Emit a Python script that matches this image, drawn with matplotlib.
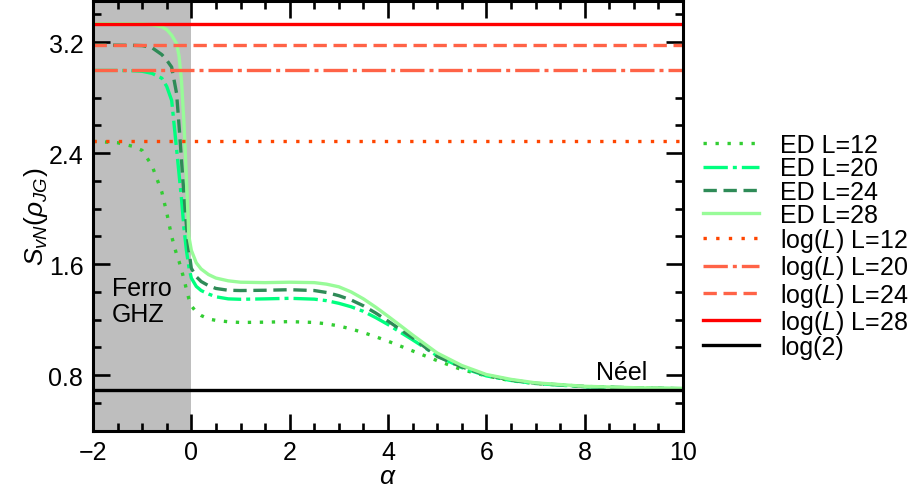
import matplotlib
matplotlib.use("Agg")
import matplotlib.pyplot as plt
import numpy as np

plt.rcParams['font.family'] = ['Liberation Sans', 'DejaVu Sans']
plt.rcParams['mathtext.fontset'] = 'custom'
plt.rcParams['mathtext.rm'] = 'Liberation Sans'
plt.rcParams['mathtext.it'] = 'Liberation Sans:italic'
plt.rcParams['mathtext.bf'] = 'Liberation Sans:bold'

# coupling alpha
alpha = [-2.0, -1.5, -1.2, -1.0, -0.8, -0.6, -0.5, -0.4, -0.3, -0.25, -0.2,
         -0.15, -0.1, -0.05, 0.0, 0.1, 0.2, 0.35, 0.5, 0.75, 1.0, 1.5, 2.0,
         2.5, 2.75, 3.0, 3.25, 3.5, 3.75, 4.0, 4.25, 4.5, 5.0, 5.5, 6.0, 6.5,
         7.0, 8.0, 9.0, 10.0]

# exact-diagonalisation entanglement entropy S_vN for each chain length
ed_L12 = [2.485, 2.475, 2.45, 2.42, 2.31, 2.12, 1.97, 1.80, 1.67, 1.62, 1.56,
          1.49, 1.42, 1.35, 1.30, 1.255, 1.23, 1.205, 1.195, 1.185, 1.18, 1.182,
          1.186, 1.18, 1.17, 1.155, 1.133, 1.107, 1.077, 1.045, 1.01, 0.975,
          0.905, 0.84, 0.795, 0.76, 0.74, 0.717, 0.708, 0.702]
ed_L20 = [2.996, 2.996, 2.994, 2.99, 2.975, 2.94, 2.88, 2.78, 2.43, 2.25, 2.07,
          1.86, 1.70, 1.58, 1.50, 1.44, 1.41, 1.385, 1.365, 1.35, 1.347, 1.35,
          1.354, 1.348, 1.337, 1.318, 1.293, 1.26, 1.215, 1.165, 1.11, 1.055,
          0.94, 0.855, 0.795, 0.762, 0.74, 0.717, 0.708, 0.702]
ed_L24 = [3.178, 3.178, 3.177, 3.175, 3.16, 3.11, 3.07, 3.02, 2.83, 2.60, 2.35,
          2.10, 1.88, 1.70, 1.57, 1.51, 1.475, 1.445, 1.425, 1.412, 1.41, 1.412,
          1.416, 1.41, 1.396, 1.373, 1.342, 1.30, 1.248, 1.19, 1.13, 1.07,
          0.935, 0.86, 0.80, 0.765, 0.742, 0.719, 0.709, 0.703]
ed_L28 = [3.332, 3.332, 3.331, 3.33, 3.325, 3.31, 3.29, 3.25, 3.19, 3.10, 2.92,
          2.62, 2.22, 1.80, 1.70, 1.61, 1.565, 1.525, 1.50, 1.48, 1.47, 1.467,
          1.47, 1.467, 1.456, 1.437, 1.40, 1.35, 1.29, 1.225, 1.158, 1.09,
          0.96, 0.87, 0.805, 0.77, 0.745, 0.72, 0.71, 0.705]

chain_lengths = [12, 20, 24, 28]

ed_colors = ['#32cd32', '#00ff7f', '#2e8b57', '#98fb98']
ed_styles = [(0, (1, 2.6)), (0, (7.3, 1.5, 1.2, 1.5)), (0, (4, 2)), '-']
log_colors = ['#ff4500', '#ff6347', '#ff6347', '#ff0000']
log_styles = [(0, (1, 2.8)), (0, (7.3, 1.5, 1.2, 1.5)), (0, (4, 2)), '-']

fig = plt.figure(figsize=(9.21, 5.02), dpi=100)
ax = fig.add_axes([93 / 921, 1 - 431.7 / 502, 590 / 921, 430.2 / 502])

# ferromagnetic GHZ region
ax.axvspan(-2, 0, color='#bebebe', lw=0, zorder=0)

ed_series = [ed_L12, ed_L20, ed_L24, ed_L28]
for L, s, c, ls in zip(chain_lengths, ed_series, ed_colors, ed_styles):
    ax.plot(alpha, s, color=c, ls=ls, lw=2.4, label=f'ED L={L}')

for L, c, ls in zip(chain_lengths, log_colors, log_styles):
    ax.axhline(np.log(L), color=c, ls=ls, lw=2.4, label=f'log($L$) L={L}')

ax.axhline(np.log(2), color='black', lw=2.4, label='log(2)')

ax.text(-1.62, 1.43, 'Ferro', fontsize=18, ha='left', va='center')
ax.text(-1.62, 1.24, 'GHZ', fontsize=18, ha='left', va='center')
ax.text(8.24, 0.825, 'Néel', fontsize=18, ha='left', va='center')

ax.set_xlim(-2, 10)
ax.set_ylim(0.4, 3.5)
ax.set_xticks([-2, 0, 2, 4, 6, 8, 10])
ax.set_xticks(np.arange(-2, 10.01, 0.5), minor=True)
ax.set_yticks([0.8, 1.6, 2.4, 3.2])
ax.set_yticks(np.arange(0.4, 3.51, 0.2), minor=True)
ax.tick_params(which='both', direction='in', top=True, right=True,
               labelsize=18, pad=7, width=1.9)
ax.tick_params(which='major', length=12)
ax.tick_params(which='minor', length=6)
for sp in ax.spines.values():
    sp.set_linewidth(2.2)

ax.set_xlabel(r'$\alpha$', fontsize=19, labelpad=0)
ax.set_ylabel(r'$S_{vN}(\rho_{JG})$', fontsize=19, labelpad=-1)

fig.legend(loc='upper left', bbox_to_anchor=(703 / 921, 1 - 134 / 502),
           frameon=False, fontsize=18, handlelength=2.24, handletextpad=0.84,
           labelspacing=-0.03, borderpad=0, borderaxespad=0)

fig.savefig('out.png', dpi=100)
